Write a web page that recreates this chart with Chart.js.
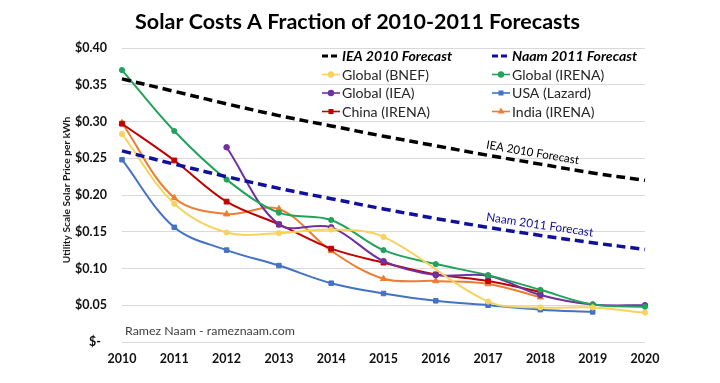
<!DOCTYPE html>
<html><head><meta charset="utf-8">
<script src="https://cdn.jsdelivr.net/npm/chart.js@4"></script>
<style>html,body{margin:0;padding:0;background:#fff}#wrap{width:720px;height:383px;position:relative}</style>
</head><body><div id="wrap"><canvas id="c" width="720" height="383"></canvas></div>
<script>
const years = ['2010','2011','2012','2013','2014','2015','2016','2017','2018','2019','2020'];
const ieaForecast  = [0.358,0.341,0.324,0.308,0.294,0.280,0.267,0.254,0.242,0.230,0.220];
const naamForecast = [0.260,0.242,0.225,0.209,0.195,0.181,0.168,0.156,0.145,0.135,0.126];
const globalBNEF   = [0.283,0.188,0.149,0.148,0.153,0.143,null,0.055,0.047,0.047,0.040];
const globalIRENA  = [0.370,0.287,0.221,0.176,0.166,0.125,0.106,0.091,0.071,0.051,0.048];
const globalIEA    = [null,null,0.265,0.160,0.156,0.110,0.091,0.090,0.064,0.051,0.050];
const usaLazard    = [0.248,0.156,0.125,0.104,0.080,0.066,0.056,0.050,0.044,0.041,null];
const chinaIRENA   = [0.297,0.247,0.191,0.160,0.127,0.108,0.092,0.083,0.068,null,null];
const indiaIRENA   = [0.298,0.196,0.174,0.181,0.124,0.086,0.083,0.079,0.061,null,null];
const yTicks = [0,0.05,0.10,0.15,0.20,0.25,0.30,0.35,0.40];

const FAM = 'Lato, "Open Sans", sans-serif';
function fit(ctx, text, style, target) {
  ctx.font = style + ' 100px ' + FAM;
  return 100 * target / ctx.measureText(text).width;
}
function series(label, data, color, style, radius) {
  return { label, data, borderColor: color, backgroundColor: color, borderWidth: 2,
    pointStyle: style, pointRadius: radius, pointHoverRadius: radius, pointBorderWidth: 1,
    tension: 0.35, spanGaps: true, fill: false };
}
function forecast(label, data, color) {
  return { label, data, borderColor: color, backgroundColor: color, borderWidth: 3.5,
    borderDash: [9, 5], pointRadius: 0, pointHoverRadius: 0, tension: 0.35, fill: false, forecast: true };
}
const datasets = [
  forecast('IEA 2010 Forecast', ieaForecast, '#000000'),
  forecast('Naam 2011 Forecast', naamForecast, '#10109c'),
  series('Global (BNEF)', globalBNEF, '#f8d25e', 'circle', 2.6),
  series('Global (IRENA)', globalIRENA, '#22a35a', 'circle', 2.6),
  series('Global (IEA)', globalIEA, '#7030a0', 'circle', 2.8),
  series('USA (Lazard)', usaLazard, '#4472c4', 'rect', 3.2),
  series('China (IRENA)', chinaIRENA, '#c00000', 'rect', 3.4),
  series('India (IRENA)', indiaIRENA, '#ed7d31', 'triangle', 3.6)
];

const decor = {
  id: 'decor',
  afterDraw(chart) {
    const ctx = chart.ctx;
    ctx.save();
    // Title
    const title = 'Solar Costs A Fraction of 2010-2011 Forecasts';
    let s = fit(ctx, title, 'bold', 445);
    ctx.font = 'bold ' + s + 'px ' + FAM;
    ctx.fillStyle = '#000';
    ctx.textAlign = 'center'; ctx.textBaseline = 'alphabetic';
    ctx.fillText(title, 357.5, 29);
    // Y title
    const yt = 'Utility Scale Solar Price per kWh';
    s = fit(ctx, yt, 'bold', 147);
    ctx.save();
    ctx.translate(67, 190); ctx.rotate(-Math.PI / 2);
    ctx.font = 'bold ' + s + 'px ' + FAM; ctx.fillStyle = '#1a1a1a';
    ctx.textAlign = 'center'; ctx.textBaseline = 'middle';
    ctx.fillText(yt, 0, 0);
    ctx.restore();
    // Watermark
    const wm = 'Ramez Naam - rameznaam.com';
    s = fit(ctx, wm, 'normal', 170);
    ctx.font = s + 'px ' + FAM; ctx.fillStyle = '#404040';
    ctx.textAlign = 'left'; ctx.textBaseline = 'middle';
    ctx.fillText(wm, 125, 331);
    // Legend
    const ls = fit(ctx, 'Global (BNEF)', 'normal', 87);
    chart.data.datasets.forEach((ds, i) => {
      const col = i % 2, row = Math.floor(i / 2);
      const x0 = 322 + col * 170, y = 56 + row * 18.5;
      ctx.save();
      ctx.strokeStyle = ds.borderColor; ctx.fillStyle = ds.borderColor;
      if (ds.forecast) {
        ctx.lineWidth = 3; ctx.setLineDash([6, 3]);
        ctx.beginPath(); ctx.moveTo(x0, y); ctx.lineTo(x0 + 18, y); ctx.stroke();
      } else {
        ctx.lineWidth = 1.6;
        ctx.beginPath(); ctx.moveTo(x0, y); ctx.lineTo(x0 + 18, y); ctx.stroke();
        Chart.helpers.drawPoint(ctx, { pointStyle: ds.pointStyle, radius: 2.4, rotation: 0, borderWidth: 1 }, x0 + 9, y);
      }
      ctx.restore();
      ctx.textAlign = 'left'; ctx.textBaseline = 'middle';
      if (ds.forecast) { ctx.font = 'italic bold ' + ls + 'px ' + FAM; ctx.fillStyle = '#000'; }
      else { ctx.font = ls + 'px ' + FAM; ctx.fillStyle = '#262626'; }
      ctx.fillText(ds.label, x0 + 20, y + 0.5);
    });
    // Annotations along forecast lines
    function along(dsi, i0, i1, frac, text, color, target, off) {
      const m = chart.getDatasetMeta(dsi);
      const p0 = m.data[i0], p1 = m.data[i1];
      const a = Math.atan2(p1.y - p0.y, p1.x - p0.x);
      const cx = p0.x + (p1.x - p0.x) * frac, cy = p0.y + (p1.y - p0.y) * frac;
      const fs = fit(ctx, text, 'normal', target);
      ctx.save();
      ctx.translate(cx + Math.sin(a) * off, cy - Math.cos(a) * off);
      ctx.rotate(a);
      ctx.font = fs + 'px ' + FAM; ctx.fillStyle = color;
      ctx.textAlign = 'center'; ctx.textBaseline = 'middle';
      ctx.fillText(text, 0, 0);
      ctx.restore();
    }
    along(0, 7, 9, 0.41, 'IEA 2010 Forecast', '#000', 94, 10);
    along(1, 7, 9, 0.48, 'Naam 2011 Forecast', '#10109c', 108, 10);
    ctx.restore();
  }
};

new Chart(document.getElementById('c'), {
  type: 'line',
  data: { labels: years, datasets },
  options: {
    responsive: false, animation: false,
    events: [],
    layout: { padding: { top: 48, right: 75, bottom: 0, left: 0 } },
    plugins: { legend: { display: false }, tooltip: { enabled: false }, title: { display: false } },
    scales: {
      x: {
        offset: false,
        grid: { display: false, drawTicks: false }, border: { display: false },
        ticks: { font: { family: FAM, weight: 'bold', size: 12.5 }, color: '#111', padding: 9, maxRotation: 0, autoSkip: false },
        afterFit: sc => { sc.height = 41; }
      },
      y: {
        min: 0, max: 0.4,
        afterBuildTicks: sc => { sc.ticks = yTicks.map(v => ({ value: v })); },
        grid: { color: '#d9d9d9', lineWidth: 1, drawTicks: false }, border: { display: false },
        ticks: { font: { family: FAM, weight: 'bold', size: 12.5 }, color: '#111', padding: 15,
          callback: v => v === 0 ? '$-  ' : '$' + v.toFixed(2) },
        afterFit: sc => { sc.width = 122; }
      }
    }
  },
  plugins: [decor]
});
</script>
</body></html>
